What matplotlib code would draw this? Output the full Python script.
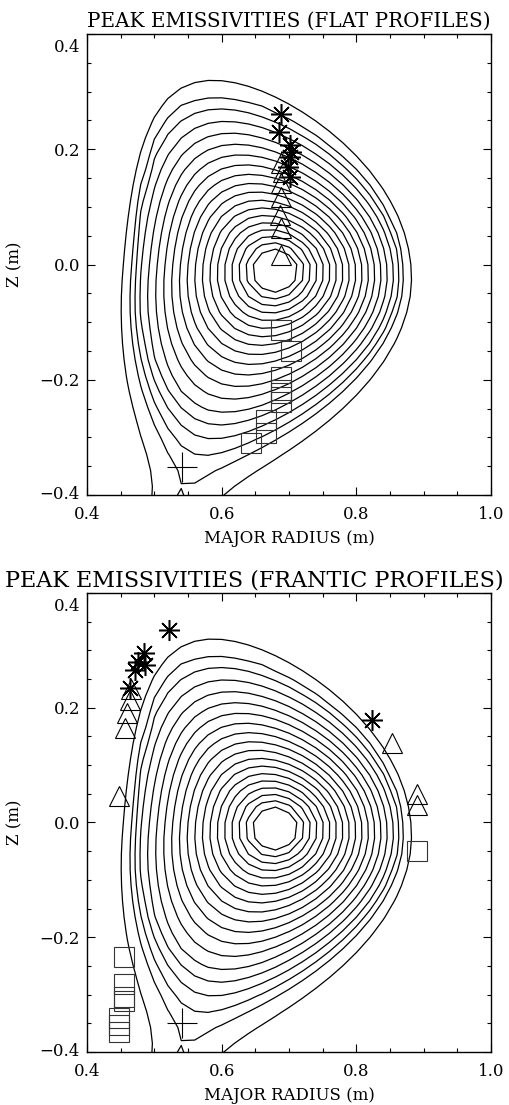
"""
Peak emissivity locations over the flux-surface map (flat vs frantic profiles).
"""

import numpy as np
import matplotlib
matplotlib.use("Agg")
import matplotlib.pyplot as plt
import matplotlib.tri as mtri
from matplotlib.transforms import ScaledTranslation


# ---------------------------------------------------------------------------
# Equilibrium shape
# ---------------------------------------------------------------------------
R_GEO      = 0.670     # geometric centre of the surfaces
Z_MID      = -0.01     # height of the magnetic axis
A_MINOR    = 0.195
KAPPA_UP   = 1.55
KAPPA_LOW  = 1.25
KAPPA_CORE = 1.10
DELTA_UP   = 0.40
DELTA_LOW  = 0.25
SHAFRANOV  = 0.010
H_OUT_UP, H_OUT_LOW = 0.40, 0.80   # horizontal growth of the surfaces outside rho = 1
R_XPT, Z_XPT = 0.545, -0.39

# flux-surface labels that are drawn (innermost .. separatrix, then one SOL line)
RHO_INNER, RHO_SEP, N_CLOSED = 0.17, 1.0, 18
RHO_SOL = 1.09

# ---------------------------------------------------------------------------
# Marker data
# ---------------------------------------------------------------------------
flat_ast_R = [0.688, 0.685, 0.702, 0.703, 0.701, 0.699, 0.702]
flat_ast_Z = [0.261, 0.230, 0.207, 0.195, 0.187, 0.169, 0.152]
flat_tri_R = [0.688, 0.691, 0.688, 0.688, 0.687, 0.688, 0.688]
flat_tri_Z = [0.176, 0.160, 0.141, 0.117, 0.086, 0.063, 0.016]
flat_sq_R  = [0.688, 0.703, 0.688, 0.688, 0.688, 0.688, 0.666, 0.666, 0.643]
flat_sq_Z  = [-0.114, -0.150, -0.195, -0.218, -0.223, -0.238, -0.270, -0.292, -0.309]
flat_plus_R = [0.541]
flat_plus_Z = [-0.351]

fran_ast_R = [0.522, 0.485, 0.476, 0.486, 0.471, 0.464, 0.823]
fran_ast_Z = [0.336, 0.295, 0.280, 0.275, 0.266, 0.234, 0.179]
fran_tri_R = [0.466, 0.464, 0.460, 0.457, 0.448, 0.853, 0.890, 0.890]
fran_tri_Z = [0.232, 0.213, 0.190, 0.165, 0.046, 0.139, 0.050, 0.031]
fran_sq_R  = [0.890, 0.455, 0.455, 0.455, 0.455, 0.448, 0.448, 0.448]
fran_sq_Z  = [-0.050, -0.234, -0.282, -0.304, -0.311, -0.340, -0.353, -0.365]
fran_plus_R = [0.541]
fran_plus_Z = [-0.350]

TITLES = ["PEAK EMISSIVITIES (FLAT PROFILES)",
          "PEAK EMISSIVITIES (FRANTIC PROFILES)"]

plt.rcParams["font.family"] = ["DejaVu Serif"]


# ---------------------------------------------------------------------------
# Flux map
# ---------------------------------------------------------------------------

def miller(rho, theta):
    """Miller-type flux-surface mapping (rho, theta) -> (R, Z)."""
    rc = np.clip(rho, 0.0, 1.0)
    up = np.sin(theta) >= 0
    k_edge = np.where(up, KAPPA_UP, KAPPA_LOW)
    d_edge = np.where(up, DELTA_UP, DELTA_LOW)
    kap = KAPPA_CORE + (k_edge - KAPPA_CORE) * rc**2
    dlt = np.arcsin(d_edge * rc)
    shift = SHAFRANOV * (1.0 - rc**2)
    h_out = H_OUT_LOW + (H_OUT_UP - H_OUT_LOW) * 0.5 * (1 + np.sin(theta))
    rho_h = rc + h_out * np.clip(rho - 1.0, 0.0, None)
    R = R_GEO + shift + A_MINOR * rho_h * np.cos(theta + dlt * np.sin(theta))
    Z = Z_MID + kap * A_MINOR * rho * np.sin(theta)
    return R, Z


def flux_field():
    # locate the X-point in (rho, theta)
    th = np.linspace(-np.pi / 2 - 0.9, -np.pi / 2 + 0.9, 4001)
    s_all = (Z_XPT - Z_MID) / (KAPPA_LOW * A_MINOR * np.sin(th))
    R_all, _ = miller(s_all, th)
    i = np.argmin(np.abs(R_all - R_XPT))
    s, th_x = s_all[i], th[i]

    # divertor "coil" strength so that the separatrix passes rho = 1 on top
    def f(r):
        return r * np.log((1 + r) * s + 1) - np.log(s) - r * np.log(r * s)

    lo, hi = 1e-4, 3.0
    for _ in range(80):
        mid = 0.5 * (lo + hi)
        if f(mid) > 0:
            hi = mid
        else:
            lo = mid
    r = 0.5 * (lo + hi)
    uc, vc = (1 + r) * s * np.cos(th_x), (1 + r) * s * np.sin(th_x)

    # flux on a fine (rho, theta) mesh
    P, T = np.meshgrid(np.linspace(0.01, 3.4, 190),
                       np.linspace(0, 2 * np.pi, 256, endpoint=False))
    Rm, Zm = miller(P, T)
    Gm = P * np.hypot(P * np.cos(T) - uc, P * np.sin(T) - vc) ** r
    Rp = np.append(Rm.ravel(), R_GEO + SHAFRANOV)
    Zp = np.append(Zm.ravel(), Z_MID)
    Gp = np.append(Gm.ravel(), 0.0)

    # resample onto a coarse equilibrium grid
    tri = mtri.Triangulation(Rp, Zp)
    interp = mtri.LinearTriInterpolator(tri, Gp)
    RR, ZZ = np.meshgrid(np.linspace(0.38, 1.02, 33),
                         np.linspace(-0.44, 0.44, 33))
    G = interp(RR, ZZ)

    rho_lev = np.append(np.linspace(RHO_INNER, RHO_SEP, N_CLOSED), RHO_SOL)
    levels = rho_lev * (rho_lev + (1 + r) * s) ** r
    return RR, ZZ, G, np.sort(levels)


# ---------------------------------------------------------------------------
# Panels
# ---------------------------------------------------------------------------

def style_axes(ax, fig):
    ax.set_xlim(0.4, 1.0)
    ax.set_ylim(-0.4, 0.4)
    ax.set_xticks([0.4, 0.6, 0.8, 1.0])
    ax.set_xticks(np.arange(0.4, 1.0001, 0.05), minor=True)
    ax.set_yticks([-0.4, -0.2, 0.0, 0.2, 0.4])
    ax.set_yticks(np.arange(-0.4, 0.4001, 0.05), minor=True)
    ax.set_xticklabels(["0.4", "0.6", "0.8", "1.0"])
    ax.set_yticklabels(["\u22120.4", "\u22120.2", "0.0", "0.2", "0.4"])
    ax.tick_params(which="both", direction="in", top=True, right=True,
                   width=0.8, labelsize=12)
    ax.tick_params(which="major", length=6, pad=5)
    ax.tick_params(which="minor", length=3)
    ax.tick_params(axis="x", which="major", pad=8)
    for sp in ax.spines.values():
        sp.set_linewidth(1.0)
    ax.set_xlabel("MAJOR RADIUS (m)", fontsize=12, labelpad=5)
    ax.set_ylabel("Z (m)", fontsize=12, labelpad=12)

    # end labels sit slightly inside the frame, as in the original
    labs = ax.yaxis.get_majorticklabels()
    labs[-1].set_transform(labs[-1].get_transform()
                           + ScaledTranslation(0, -8 / 72, fig.dpi_scale_trans))
    labs[0].set_transform(labs[0].get_transform()
                          + ScaledTranslation(0, 2 / 72, fig.dpi_scale_trans))


def draw_panel(ax, fig, ast, tri, sq, plus, field):
    RR, ZZ, G, levels = field
    ax.contour(RR, ZZ, G, levels=levels, colors="black", linewidths=0.9)

    ax.plot(tri[0], tri[1], ls="none", marker="^", ms=14, mfc="none",
            mec="black", mew=0.8)
    ax.plot(sq[0], sq[1], ls="none", marker="s", ms=14, mfc="none",
            mec="#333333", mew=0.8)
    ax.plot(ast[0], ast[1], ls="none", marker=(8, 2, 0), ms=15,
            mec="black", mew=1.1)
    ax.plot(plus[0], plus[1], ls="none", marker="+", ms=21, mec="black",
            mew=0.8)

    style_axes(ax, fig)


fig = plt.figure(figsize=(5.09, 11.05), dpi=100)
ax1 = fig.add_axes([0.1709, 0.5520, 0.7937, 0.4172])
ax2 = fig.add_axes([0.1709, 0.0480, 0.7937, 0.4154])

field = flux_field()
draw_panel(ax1, fig, (flat_ast_R, flat_ast_Z), (flat_tri_R, flat_tri_Z),
           (flat_sq_R, flat_sq_Z), (flat_plus_R, flat_plus_Z), field)
draw_panel(ax2, fig, (fran_ast_R, fran_ast_Z), (fran_tri_R, fran_tri_Z),
           (fran_sq_R, fran_sq_Z), (fran_plus_R, fran_plus_Z), field)

ax1.set_title(TITLES[0], fontsize=14.3, pad=5)
fig.text(0.5, 1 - 580 / 1105, TITLES[1], fontsize=16, ha="center",
         va="center")

fig.savefig("out.png", dpi=100)
